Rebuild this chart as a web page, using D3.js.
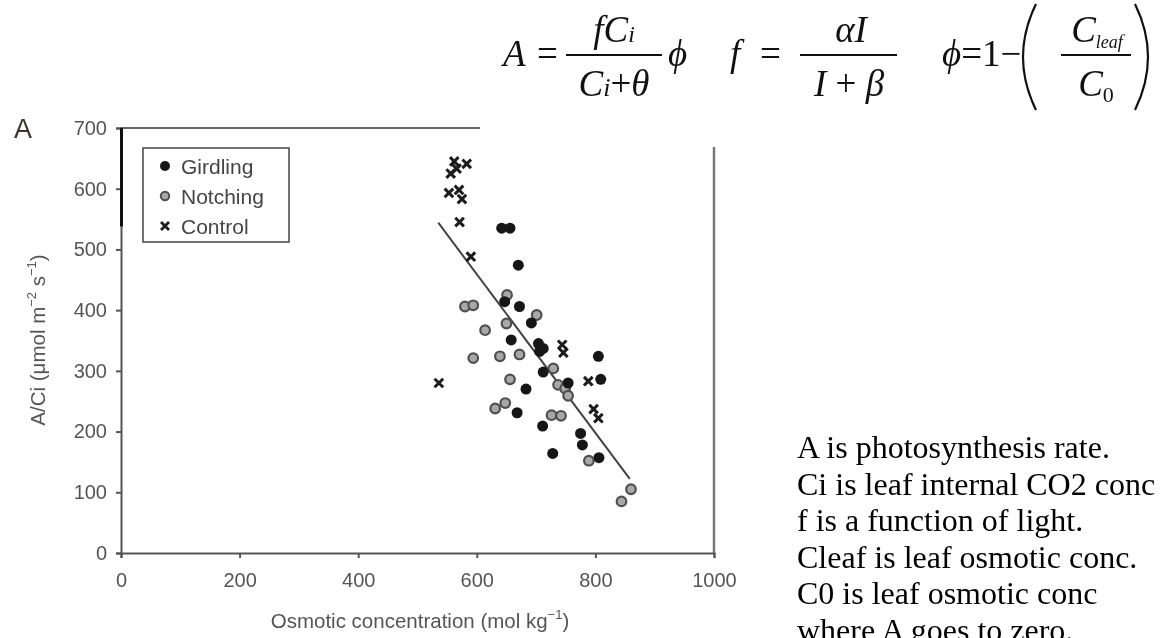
<!DOCTYPE html>
<html>
<head>
<meta charset="utf-8">
<script src="https://cdn.jsdelivr.net/npm/d3@7"></script>
<style>
  html, body { margin: 0; padding: 0; background: #fff; overflow: hidden; }
  svg { display: block; }
</style>
</head>
<body>
<svg id="chart" width="1163" height="638"></svg>
<script>
// Leaf photosynthesis (A/Ci) against leaf osmotic concentration, three treatments.
const girdlingX = [642, 656, 670, 647, 672, 692, 658, 704, 712, 706, 805, 712, 683, 754, 809, 668, 711, 775, 778, 728, 806];
const girdlingY = [535, 535, 474, 414, 406, 379, 351, 345, 337, 332, 324, 298, 270, 280, 286, 231, 209, 197, 178, 164, 157];

const notchingX = [580, 594, 651, 701, 614, 650, 594, 639, 672, 729, 656, 737, 749, 754, 631, 648, 726, 742, 789, 844, 860];
const notchingY = [406, 408, 425, 392, 367, 378, 321, 324, 327, 304, 286, 277, 271, 259, 238, 247, 227, 226, 152, 85, 105];

const controlX = [562, 583, 556, 566, 553, 570, 575, 571, 590, 536, 744, 746, 788, 797, 805];
const controlY = [645, 641, 625, 633, 593, 598, 583, 545, 488, 280, 343, 330, 283, 237, 222];

// Regression line end points
const fitX = [535, 858];
const fitY = [544, 122];

const xTicks = [0, 200, 400, 600, 800, 1000];
const yTicks = [0, 100, 200, 300, 400, 500, 600, 700];

const legendLabels = ["Girdling", "Notching", "Control"];

const notes = [
  "A is photosynthesis rate.",
  "Ci is leaf internal CO2 conc",
  "f is a function of light.",
  "Cleaf is leaf osmotic conc.",
  "C0 is leaf osmotic conc",
  "where A goes to zero."
];

const svg = d3.select("#chart");
const SANS = "'Liberation Sans', Arial, sans-serif";
const SERIF = "'Liberation Serif', 'Times New Roman', serif";

const defs = svg.append("defs");
defs.append("filter").attr("id", "soft")
  .attr("x", "-20%").attr("y", "-20%").attr("width", "140%").attr("height", "140%")
  .append("feGaussianBlur").attr("stdDeviation", 0.6);
defs.append("filter").attr("id", "softText")
  .append("feGaussianBlur").attr("stdDeviation", 0.35);

const x = d3.scaleLinear().domain([0, 1000]).range([121, 714]);
const y = d3.scaleLinear().domain([0, 700]).range([553, 128]);

const plot = svg.append("g");

// Frame (top and right borders)
plot.append("line").attr("x1", x(0)).attr("x2", x(1000)).attr("y1", y(700)).attr("y2", y(700))
  .attr("stroke", "#666").attr("stroke-width", 2);
plot.append("line").attr("x1", x(1000)).attr("x2", x(1000)).attr("y1", y(700)).attr("y2", y(0))
  .attr("stroke", "#777").attr("stroke-width", 2.5);

// Axes
const xAxis = plot.append("g").attr("transform", `translate(0,${y(0)})`)
  .call(d3.axisBottom(x).tickValues(xTicks).tickSize(5).tickPadding(15).tickFormat(d3.format("d")));
const yAxis = plot.append("g").attr("transform", `translate(${x(0)},0)`)
  .call(d3.axisLeft(y).tickValues(yTicks).tickSize(5).tickPadding(9).tickFormat(d3.format("d")));
[xAxis, yAxis].forEach(a => {
  a.select(".domain").attr("stroke", "#555").attr("stroke-width", 2);
  a.selectAll(".tick line").attr("stroke", "#555").attr("stroke-width", 2);
  a.selectAll(".tick text").attr("fill", "#555").style("font-family", SANS).style("font-size", "20px")
    .attr("filter", "url(#softText)");
});
// heavier upper section of the y axis
plot.append("line").attr("x1", x(0) + 0.5).attr("x2", x(0) + 0.5).attr("y1", y(700)).attr("y2", y(538))
  .attr("stroke", "#111").attr("stroke-width", 3);

// Axis titles
const xt = plot.append("text").attr("x", 420).attr("y", 628).attr("text-anchor", "middle")
  .attr("fill", "#555").style("font-family", SANS).style("font-size", "20.5px").attr("filter", "url(#softText)");
xt.append("tspan").text("Osmotic concentration (mol kg");
xt.append("tspan").attr("dy", -9).style("font-size", "13px").text("−1");
xt.append("tspan").attr("dy", 9).text(")");

const yt = plot.append("text").attr("transform", "translate(45,340) rotate(-90)").attr("text-anchor", "middle")
  .attr("fill", "#555").style("font-family", SANS).style("font-size", "20.5px").attr("filter", "url(#softText)");
yt.append("tspan").text("A/Ci (μmol m");
yt.append("tspan").attr("dy", -9).style("font-size", "13px").text("−2");
yt.append("tspan").attr("dy", 9).text(" s");
yt.append("tspan").attr("dy", -9).style("font-size", "13px").text("−1");
yt.append("tspan").attr("dy", 9).text(")");

// Panel letter
svg.append("text").attr("x", 14).attr("y", 138).attr("fill", "#3a3530")
  .style("font-family", SANS).style("font-size", "27px").text("A");

// Regression line
plot.append("line")
  .attr("x1", x(fitX[0])).attr("y1", y(fitY[0]))
  .attr("x2", x(fitX[1])).attr("y2", y(fitY[1]))
  .attr("stroke", "#444").attr("stroke-width", 2);

// Marker drawers
function crossPath(s) {
  return `M${-s},${-s}L${s},${s}M${-s},${s}L${s},${-s}`;
}
const marks = plot.append("g").attr("filter", "url(#soft)");

marks.selectAll("path.ctrl").data(d3.zip(controlX, controlY)).join("path")
  .attr("class", "ctrl")
  .attr("transform", d => `translate(${x(d[0])},${y(d[1])})`)
  .attr("d", crossPath(4.3)).attr("stroke", "#1a1a1a").attr("stroke-width", 3).attr("fill", "none");

marks.selectAll("circle.notch").data(d3.zip(notchingX, notchingY)).join("circle")
  .attr("class", "notch")
  .attr("cx", d => x(d[0])).attr("cy", d => y(d[1])).attr("r", 4.8)
  .attr("fill", "#a8a8a8").attr("stroke", "#505050").attr("stroke-width", 2.2);

marks.selectAll("circle.gird").data(d3.zip(girdlingX, girdlingY)).join("circle")
  .attr("class", "gird")
  .attr("cx", d => x(d[0])).attr("cy", d => y(d[1])).attr("r", 5.5)
  .attr("fill", "#161616");

// Legend
const lg = plot.append("g");
lg.append("rect").attr("x", 143).attr("y", 148).attr("width", 146).attr("height", 94)
  .attr("fill", "#fff").attr("stroke", "#444").attr("stroke-width", 1.5);
const ly = [166, 196, 226];
const lgMarks = lg.append("g").attr("filter", "url(#soft)");
lgMarks.append("circle").attr("cx", 165).attr("cy", ly[0]).attr("r", 5).attr("fill", "#161616");
lgMarks.append("circle").attr("cx", 165).attr("cy", ly[1]).attr("r", 4.2)
  .attr("fill", "#a8a8a8").attr("stroke", "#505050").attr("stroke-width", 2);
lgMarks.append("path").attr("transform", `translate(165,${ly[2]})`).attr("d", crossPath(4))
  .attr("stroke", "#1a1a1a").attr("stroke-width", 2.8);
lg.selectAll("text").data(legendLabels).join("text")
  .attr("x", 181).attr("y", (d, i) => ly[i] + 7.5)
  .attr("fill", "#444").style("font-family", SANS).style("font-size", "21px")
  .attr("filter", "url(#softText)")
  .text(d => d);

// Equation panel (white backing over the upper right of the frame)
svg.append("rect").attr("x", 480).attr("y", 0).attr("width", 683).attr("height", 147).attr("fill", "#fff");

const eq = svg.append("g").style("font-family", SERIF).attr("fill", "#111");
const FS = 37;
function txt(xp, yp, parts, anchor) {
  const t = eq.append("text").attr("x", xp).attr("y", yp).attr("text-anchor", anchor || "start")
    .style("font-size", FS + "px");
  parts.forEach(p => {
    const s = t.append("tspan").text(p.t);
    if (p.i) s.style("font-style", "italic");
    if (p.s) s.style("font-size", p.s + "px");
    if (p.dy) s.attr("dy", p.dy);
  });
  return t;
}
function bar(x1, x2, yp) {
  eq.append("line").attr("x1", x1).attr("x2", x2).attr("y1", yp).attr("y2", yp)
    .attr("stroke", "#111").attr("stroke-width", 1.8);
}
function paren(x0, bow) {
  eq.append("path").attr("d", `M${x0},4 Q${x0 + bow},57 ${x0},110`)
    .attr("fill", "none").attr("stroke", "#111").attr("stroke-width", 2.2);
}
const eqMid = 66, eqNum = 42, eqDen = 96, eqBar = 55;

// A = fCi / (Ci + θ) φ
txt(503, eqMid, [{ t: "A", i: true }]);
txt(537, eqMid, [{ t: "=" }]);
txt(614, eqNum, [{ t: "fC", i: true }, { t: "i", i: true, s: 24 }], "middle");
bar(566, 662, eqBar);
txt(614, eqDen, [{ t: "C", i: true }, { t: "i", i: true, s: 26 }, { t: "+" }, { t: "θ", i: true }], "middle");
txt(668, eqMid, [{ t: "ϕ", i: true }]);

// f = αI / (I + β)
txt(730, eqMid, [{ t: "f", i: true }]);
txt(760, eqMid, [{ t: "=" }]);
txt(851, eqNum, [{ t: "αI", i: true }], "middle");
bar(800, 897, eqBar);
txt(849, eqDen, [{ t: "I", i: true }, { t: " + " }, { t: "β", i: true }], "middle");

// φ = 1 − (Cleaf / C0)
txt(942, eqMid, [{ t: "ϕ", i: true }, { t: "=1−" }]);
paren(1036, -26);
paren(1135, 26);
txt(1097, eqNum, [{ t: "C", i: true }, { t: "leaf", i: true, s: 18, dy: 6 }], "middle");
bar(1061, 1131, eqBar);
txt(1096, eqDen, [{ t: "C", i: true }, { t: "0", s: 22, dy: 6 }], "middle");

// Explanatory notes
svg.append("g").selectAll("text").data(notes).join("text")
  .attr("x", 797).attr("y", (d, i) => 458 + i * 36.5)
  .attr("fill", "#000").style("font-family", SERIF).style("font-size", "32px")
  .text(d => d);
</script>
</body>
</html>
